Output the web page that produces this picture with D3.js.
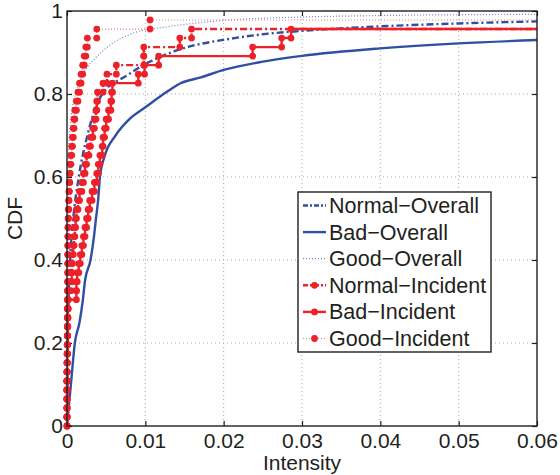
<!DOCTYPE html>
<html>
<head>
<meta charset="utf-8">
<script src="https://cdn.jsdelivr.net/npm/d3@7"></script>
<style>
body { margin: 0; background: #fff; }
text { font-family: "Liberation Sans", Arial, sans-serif; fill: #231f20; }
</style>
</head>
<body>
<div id="chart"></div>
<script>
// Data

const xTicks = [0, 0.01, 0.02, 0.03, 0.04, 0.05, 0.06];
const yTicks = [0, 0.2, 0.4, 0.6, 0.8, 1];
const legendNames = ["Normal\u2212Overall", "Bad\u2212Overall", "Good\u2212Overall",
    "Normal\u2212Incident", "Bad\u2212Incident", "Good\u2212Incident"];

// overall CDFs as [intensity, cdf]
const normalOverall = [[0, 0], [0.00005, 0.1], [0.0001, 0.2], [0.0002, 0.3], [0.0004, 0.4],
    [0.0008, 0.5], [0.0015, 0.6], [0.0026, 0.7], [0.0045, 0.8], [0.0077, 0.845],
    [0.0098, 0.87], [0.012, 0.89], [0.014, 0.905], [0.0162, 0.917], [0.0205, 0.932],
    [0.025, 0.944], [0.03, 0.952], [0.04, 0.963], [0.05, 0.97], [0.06, 0.975]];

const badOverall = [[0, 0], [0.0005, 0.1], [0.001, 0.2], [0.0016, 0.25], [0.002, 0.3],
    [0.0023, 0.35], [0.003, 0.4], [0.0034, 0.45], [0.0037, 0.5], [0.004, 0.55],
    [0.0042, 0.6], [0.0048, 0.65], [0.0062, 0.7], [0.008, 0.74], [0.01, 0.768],
    [0.0128, 0.806], [0.0145, 0.826], [0.0171, 0.84], [0.02, 0.858], [0.025, 0.878],
    [0.03, 0.892], [0.04, 0.91], [0.05, 0.922], [0.06, 0.93]];

const goodOverall = [[0, 0], [0.00002, 0.2], [0.00005, 0.4], [0.0001, 0.55], [0.0002, 0.65],
    [0.0004, 0.72], [0.0007, 0.77], [0.0011, 0.8], [0.0017, 0.834], [0.0026, 0.865],
    [0.0036, 0.886], [0.0055, 0.918], [0.0085, 0.947], [0.0128, 0.962], [0.017, 0.972],
    [0.0205, 0.978], [0.029, 0.985], [0.04, 0.989], [0.06, 0.992]];

// incident samples (sorted intensities, 46 each)
const normalIncident = [0, 0, 0, 0, 0, 0, 0.00002, 0.00004, 0.00005, 0.00006,
    0.00008, 0.0001, 0.0001, 0.00012, 0.00015, 0.0005, 0.0006, 0.0006, 0.0007, 0.0008,
    0.0009, 0.001, 0.0011, 0.0012, 0.0014, 0.0016, 0.0019, 0.0021, 0.0023, 0.0025,
    0.0028, 0.003, 0.0033, 0.0035, 0.0037, 0.0038, 0.0039, 0.0046, 0.0051, 0.0063,
    0.0098, 0.0098, 0.0144, 0.0159, 0.065, 0.08];

const badIncident = [0, 0, 0, 0, 0, 0, 0.00002, 0.00004, 0.00005, 0.00006,
    0.00008, 0.0001, 0.00012, 0.00015, 0.0012, 0.0012, 0.0013, 0.0015, 0.0017, 0.0019,
    0.0021, 0.0023, 0.0025, 0.0027, 0.0029, 0.0032, 0.0035, 0.0038, 0.004, 0.0042,
    0.0045, 0.0046, 0.0048, 0.005, 0.0053, 0.0056, 0.0057, 0.0058, 0.0091, 0.0099,
    0.0117, 0.0237, 0.0274, 0.0286, 0.07, 0.09];

const goodIncident = [0, 0, 0, 0, 0, 0, 0, 0, 0.00002, 0.00003,
    0.00004, 0.00005, 0.00005, 0.00006, 0.00007, 0.00008, 0.0001, 0.0001, 0.0001, 0.0001,
    0.00012, 0.00012, 0.00015, 0.00018, 0.00022, 0.00025, 0.0003, 0.00035, 0.0004, 0.0005,
    0.0006, 0.0007, 0.0008, 0.0009, 0.001, 0.0012, 0.0014, 0.0016, 0.0018, 0.002,
    0.0022, 0.0024, 0.0026, 0.0038, 0.0106, 0.08];

// Set dimensions and margins for the chart

const margin = { top: 11, right: 23, bottom: 49, left: 67 };
const width = 560 - margin.left - margin.right;
const height = 475 - margin.top - margin.bottom;

const blue = "#2f4fa3";
const red = "#ec2129";

const x = d3.scaleLinear().domain([0, 0.06]).range([0, width]);
const y = d3.scaleLinear().domain([0, 1]).range([height, 0]);

const svg = d3.select("#chart")
    .append("svg")
        .attr("width", width + margin.left + margin.right)
        .attr("height", height + margin.top + margin.bottom)
    .append("g")
        .attr("transform", `translate(${margin.left},${margin.top})`);

svg.append("clipPath")
    .attr("id", "plotClip")
  .append("rect")
    .attr("width", width)
    .attr("height", height);

// gridlines
svg.selectAll(".xGrid")
    .data(xTicks.slice(1, -1))
    .join("line")
    .attr("x1", d => x(d))
    .attr("x2", d => x(d))
    .attr("y1", 0)
    .attr("y2", height)
    .attr("stroke", "#a8a8a8")
    .attr("stroke-dasharray", "1,3");

svg.selectAll(".yGrid")
    .data(yTicks.slice(1, -1))
    .join("line")
    .attr("x1", 0)
    .attr("x2", width)
    .attr("y1", d => y(d))
    .attr("y2", d => y(d))
    .attr("stroke", "#a8a8a8")
    .attr("stroke-dasharray", "1,3");

// axes (ticks pointing inward, on all four sides)
const fmt = d => String(d);

svg.append("g")
    .attr("transform", `translate(0,${height})`)
    .call(d3.axisBottom(x).tickValues(xTicks).tickFormat(fmt)
        .tickSizeInner(-5).tickSizeOuter(0).tickPadding(7));

svg.append("g")
    .call(d3.axisLeft(y).tickValues(yTicks).tickFormat(fmt)
        .tickSizeInner(-5).tickSizeOuter(0).tickPadding(4));

svg.append("g")
    .call(d3.axisTop(x).tickValues(xTicks).tickFormat("")
        .tickSizeInner(-5).tickSizeOuter(0));

svg.append("g")
    .attr("transform", `translate(${width},0)`)
    .call(d3.axisRight(y).tickValues(yTicks).tickFormat("")
        .tickSizeInner(-5).tickSizeOuter(0));

svg.selectAll(".domain").remove();
svg.selectAll(".tick line").attr("stroke", "#231f20").attr("stroke-width", 1.2);
svg.selectAll(".tick text")
    .style("font-size", "21px")
    .style("font-family", "'Liberation Sans', Arial, sans-serif")
    .attr("fill", "#231f20");

// lines

const line = d3.line()
    .x(d => x(d[0]))
    .y(d => y(d[1]));

const smooth = d3.line()
    .curve(d3.curveMonotoneX)
    .x(d => x(d[0]))
    .y(d => y(d[1]));

function stairs(vals) {
    const n = vals.length;
    const pts = [];
    vals.forEach((v, i) => {
        pts.push([v, i / n]);
        pts.push([v, (i + 1) / n]);
    });
    return pts;
}

const plot = svg.append("g").attr("clip-path", "url(#plotClip)");

plot.append("path")
    .datum(goodOverall)
    .attr("fill", "none")
    .attr("stroke", "#6c82c6")
    .attr("stroke-width", 1.2)
    .attr("stroke-dasharray", "1,2")
    .attr("d", smooth);

plot.append("path")
    .datum(badOverall)
    .attr("fill", "none")
    .attr("stroke", blue)
    .attr("stroke-width", 2.4)
    .attr("d", smooth);

plot.append("path")
    .datum(normalOverall)
    .attr("fill", "none")
    .attr("stroke", blue)
    .attr("stroke-width", 2.4)
    .attr("stroke-dasharray", "7,3,2,3")
    .attr("d", smooth);

const incidents = [
    { vals: goodIncident, dash: "1,2", w: 1.2, stroke: "#f07c80" },
    { vals: normalIncident, dash: "7,3,2,3", w: 2.4, stroke: red },
    { vals: badIncident, dash: null, w: 2.4, stroke: red }
];

incidents.forEach(s => {
    const pts = stairs(s.vals);
    plot.append("path")
        .datum(pts)
        .attr("fill", "none")
        .attr("stroke", s.stroke)
        .attr("stroke-width", s.w)
        .attr("stroke-dasharray", s.dash)
        .attr("d", line);
    svg.append("g")
        .selectAll("circle")
        .data(pts.filter(d => d[0] <= 0.06))
        .join("circle")
        .attr("cx", d => x(d[0]))
        .attr("cy", d => y(d[1]))
        .attr("r", 3.4)
        .attr("fill", red);
});

// axis box
svg.append("rect")
    .attr("width", width)
    .attr("height", height)
    .attr("fill", "none")
    .attr("stroke", "#231f20")
    .attr("stroke-width", 1.4);

// axis labels
svg.append("text")
    .attr("x", width / 2)
    .attr("y", height + 44)
    .attr("text-anchor", "middle")
    .style("font-size", "21px")
    .text("Intensity");

svg.append("text")
    .attr("transform", `translate(${-45},${height / 2}) rotate(-90)`)
    .attr("text-anchor", "middle")
    .style("font-size", "21px")
    .text("CDF");

// legend
const legendStyles = [
    { stroke: blue, w: 2.4, dash: "5,2,2,2", marker: false },
    { stroke: blue, w: 2.4, dash: null, marker: false },
    { stroke: "#6c82c6", w: 1.2, dash: "1,2", marker: false },
    { stroke: red, w: 2.4, dash: "5,2,2,2", marker: true },
    { stroke: red, w: 2.4, dash: null, marker: true },
    { stroke: "#f07c80", w: 1.2, dash: "1,2", marker: true }
];

const lx = 298 - margin.left;
const ly = 192 - margin.top;
const legend = svg.append("g").attr("transform", `translate(${lx},${ly})`);

legend.append("rect")
    .attr("width", 193)
    .attr("height", 160)
    .attr("fill", "#fff")
    .attr("stroke", "#231f20")
    .attr("stroke-width", 1.4);

legendNames.forEach((name, i) => {
    const st = legendStyles[i];
    const cy = 13.5 + i * 26.6;
    legend.append("line")
        .attr("x1", 5).attr("x2", 28)
        .attr("y1", cy).attr("y2", cy)
        .attr("stroke", st.stroke)
        .attr("stroke-width", st.w)
        .attr("stroke-dasharray", st.dash);
    if (st.marker) {
        legend.append("circle")
            .attr("cx", 16.5).attr("cy", cy).attr("r", 3.4)
            .attr("fill", red);
    }
    legend.append("text")
        .attr("x", 31)
        .attr("y", cy + 7.5)
        .style("font-size", "21.5px")
        .text(name);
});
</script>
</body>
</html>
